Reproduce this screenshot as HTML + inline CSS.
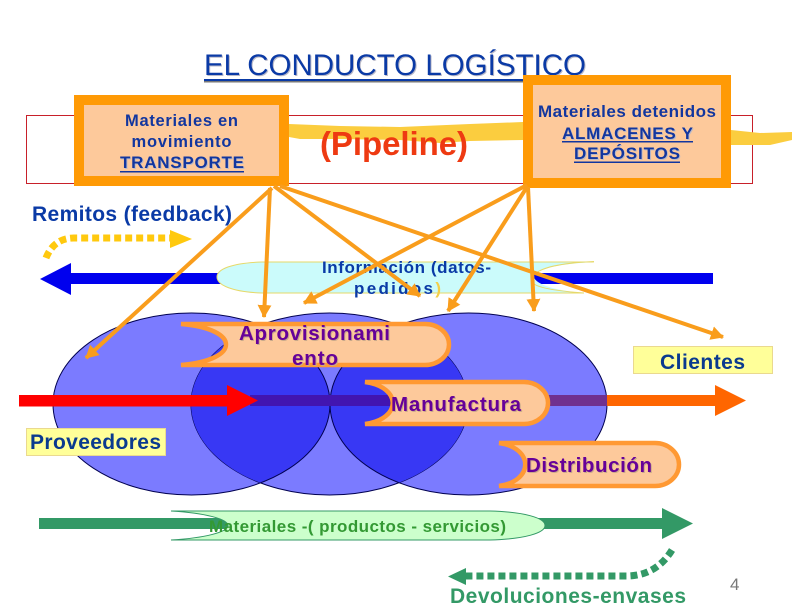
<!DOCTYPE html>
<html><head><meta charset="utf-8"><style>
html,body{margin:0;padding:0;background:#fff}
svg{display:block;font-family:"Liberation Sans",sans-serif}
.s{filter:drop-shadow(1px 1px 0 #b9b9c8)}
.p{filter:drop-shadow(1px 1px 0 #c9a98a)}
</style></head><body>
<svg width="792" height="612" viewBox="0 0 792 612" xmlns="http://www.w3.org/2000/svg">
<defs>
<clipPath id="cm"><ellipse cx="329.5" cy="404" rx="138.5" ry="91"/></clipPath>
<marker id="ah" markerUnits="userSpaceOnUse" markerWidth="16" markerHeight="16" refX="12" refY="7" orient="auto"><path d="M0 0L13 7L0 14Z" fill="#f99d1c"/></marker>
</defs>
<rect width="792" height="612" fill="#fff"/>

<text class="s" x="204" y="75" font-size="29.5" fill="#0a3aa6" textLength="382">EL CONDUCTO LOGÍSTICO</text>
<rect x="204" y="79" width="322" height="2" fill="#0a3aa6"/>
<rect x="204" y="81" width="322" height="1.5" fill="#777"/>

<rect x="26.5" y="115.5" width="726" height="68" fill="#fff" stroke="#c8202a" stroke-width="1"/>
<path d="M289 124L340 126L400 127L470 124L523 122V140L470 141L440 143L400 140L340 139L300 139L289 137Z" fill="#fbcd3f"/>
<path d="M731 130L760 133L792 132V140L770 145L731 145Z" fill="#fbcd3f"/>
<text x="320" y="155" font-size="33" font-weight="bold" fill="#ee3a12" textLength="148">(Pipeline)</text>

<rect x="79" y="100" width="205" height="81" fill="#fdc99b" stroke="#ff9a05" stroke-width="10"/>
<g fill="#12369f" font-size="16.5" font-weight="bold" text-anchor="middle">
<text x="181.500" y="126" textLength="113">Materiales en</text>
<text x="181.500" y="147" textLength="100">movimiento</text>
<text class="s" x="182" y="168" font-size="17" textLength="124">TRANSPORTE</text>
</g>
<rect x="120" y="171" width="124" height="1.500" fill="#12369f"/>

<rect x="528" y="80" width="198" height="103" fill="#fdc99b" stroke="#ff9a05" stroke-width="10"/>
<g fill="#12369f" font-size="17" font-weight="bold" text-anchor="middle">
<text x="627" y="117" textLength="178">Materiales detenidos</text>
<text class="s" x="627.500" y="139" textLength="131">ALMACENES Y</text>
<text class="s" x="627" y="159" textLength="106">DEPÓSITOS</text>
</g>
<rect x="562" y="141" width="131" height="1.500" fill="#12369f"/>
<rect x="574" y="161.500" width="106" height="1.500" fill="#12369f"/>

<text x="32" y="221" font-size="21" font-weight="bold" fill="#0a3aa6" textLength="200">Remitos (feedback)</text>
<path d="M46 258Q54 238 74 238H171" fill="none" stroke="#ffc90e" stroke-width="7" stroke-dasharray="7 4"/>
<path d="M170 230L192 239L170 248Z" fill="#ffc90e"/>

<rect x="70" y="273" width="643" height="11" fill="#0000ee"/>
<path d="M40 279L71 263V295Z" fill="#0000ee"/>
<path d="M262 262H594C560 264 540 268 534 275C532 282 548 290 584 293H262C232 292 217 285 217 277C217 269 232 263 262 262Z" fill="#cbfbfb"/>
<path d="M594 261.500C560 263 540 268 534 275M534 284C540 288 556 291 584 293H262C232 292 217 285 217 277C217 269 232 263 262 262H594" fill="none" stroke="#e6d96a" stroke-width="1"/>
<path d="M534 273H560V284H545Q536 283 534 276Z" fill="#0000ee"/>
<g fill="#0a3aa6" font-size="17" font-weight="bold">
<text x="322" y="273" textLength="169">Información (datos-</text>
<text x="354" y="294" textLength="87">pedidos<tspan fill="#f3cf4a">)</tspan></text>
</g>

<ellipse cx="191.500" cy="404" rx="138.500" ry="91" fill="#7b7bff" stroke="#000050" stroke-width="1"/>
<ellipse cx="468.500" cy="404" rx="138.500" ry="91" fill="#7b7bff" stroke="#000050" stroke-width="1"/>
<ellipse cx="329.500" cy="404" rx="138.500" ry="91" fill="#7b7bff" stroke="#000050" stroke-width="1"/>
<g clip-path="url(#cm)">
<ellipse cx="191.500" cy="404" rx="138.500" ry="91" fill="#3838f4" stroke="#000050" stroke-width="1"/>
<ellipse cx="468.500" cy="404" rx="138.500" ry="91" fill="#3838f4" stroke="#000050" stroke-width="1"/>
</g>

<rect x="250" y="395" width="141" height="11" fill="#4215b0"/>
<rect x="545" y="395" width="62" height="11" fill="#70308f"/>
<rect x="607" y="395" width="110" height="11" fill="#ff6600"/>
<path d="M715 385L746 400.500L715 416Z" fill="#ff6600"/>
<rect x="19" y="395" width="212" height="11.500" fill="#ff0000"/>
<path d="M227 385L258 400.500L227 416Z" fill="#ff0000"/>

<g fill="#fdc99b" stroke="#ff9933" stroke-width="4.500">
<path d="M181 324H425A24 20.500 0 0 1 425 365H181C241 360 241 329 181 324Z"/>
<path d="M365 382H524A24 21 0 0 1 524 424H365C402 419 402 387 365 382Z"/>
<path d="M499 443H655A24 21.500 0 0 1 655 486H499C534 481 534 448 499 443Z"/>
</g>
<g fill="#660099" font-size="20.500" font-weight="bold" class="p">
<text x="239" y="340" textLength="151">Aprovisionami</text>
<text x="292" y="365" textLength="46">ento</text>
<text x="391" y="411" textLength="130">Manufactura</text>
<text x="526" y="472" textLength="126">Distribución</text>
</g>

<rect x="26.500" y="428.500" width="139" height="27" fill="#ffff99" stroke="#ead98f"/>
<text x="30" y="449" font-size="21" font-weight="bold" fill="#0a3a8f" textLength="131">Proveedores</text>
<rect x="633.500" y="346.500" width="139" height="27" fill="#ffff99" stroke="#ead98f"/>
<text x="660" y="369" font-size="21" font-weight="bold" fill="#0a3a8f" textLength="85">Clientes</text>

<rect x="39" y="518" width="625" height="11" fill="#339966"/>
<path d="M662 508L693 523.500L662 539Z" fill="#339966"/>
<path d="M171 511H490C525 512 545 518 545 525.500C545 533 525 539 490 540H171C205 538 228 532 228 525.500C228 519 205 513 171 511Z" fill="#ccffcc"/>
<path d="M171 511H490C525 512 545 518 545 525.500C545 533 525 539 490 540H171C205 538 228 532 228 525.500C228 519 205 513 171 511Z" fill="none" stroke="#339966" stroke-width="1"/>
<text x="209" y="532" font-size="17" font-weight="bold" fill="#339933" textLength="297">Materiales -( productos - servicios)</text>

<path d="M672 550Q656 576 626 576H466" fill="none" stroke="#339966" stroke-width="7" stroke-dasharray="7 4"/>
<path d="M448 576.500L466 568V585Z" fill="#339966"/>
<text x="450" y="603" font-size="21" font-weight="bold" fill="#339966" textLength="236">Devoluciones-envases</text>
<text x="730" y="590" font-size="17" fill="#777">4</text>

<g stroke="#f99d1c" stroke-width="4" fill="none">
<line x1="272" y1="188" x2="86" y2="358" marker-end="url(#ah)"/>
<line x1="270" y1="188" x2="264" y2="317" marker-end="url(#ah)"/>
<line x1="274" y1="186" x2="420" y2="296" marker-end="url(#ah)"/>
<line x1="280" y1="186" x2="723" y2="337" marker-end="url(#ah)"/>
<line x1="527" y1="185" x2="304" y2="303" marker-end="url(#ah)"/>
<line x1="527" y1="187" x2="448" y2="311" marker-end="url(#ah)"/>
<line x1="528" y1="187" x2="534" y2="311" marker-end="url(#ah)"/>
</g>
</svg>
</body></html>
